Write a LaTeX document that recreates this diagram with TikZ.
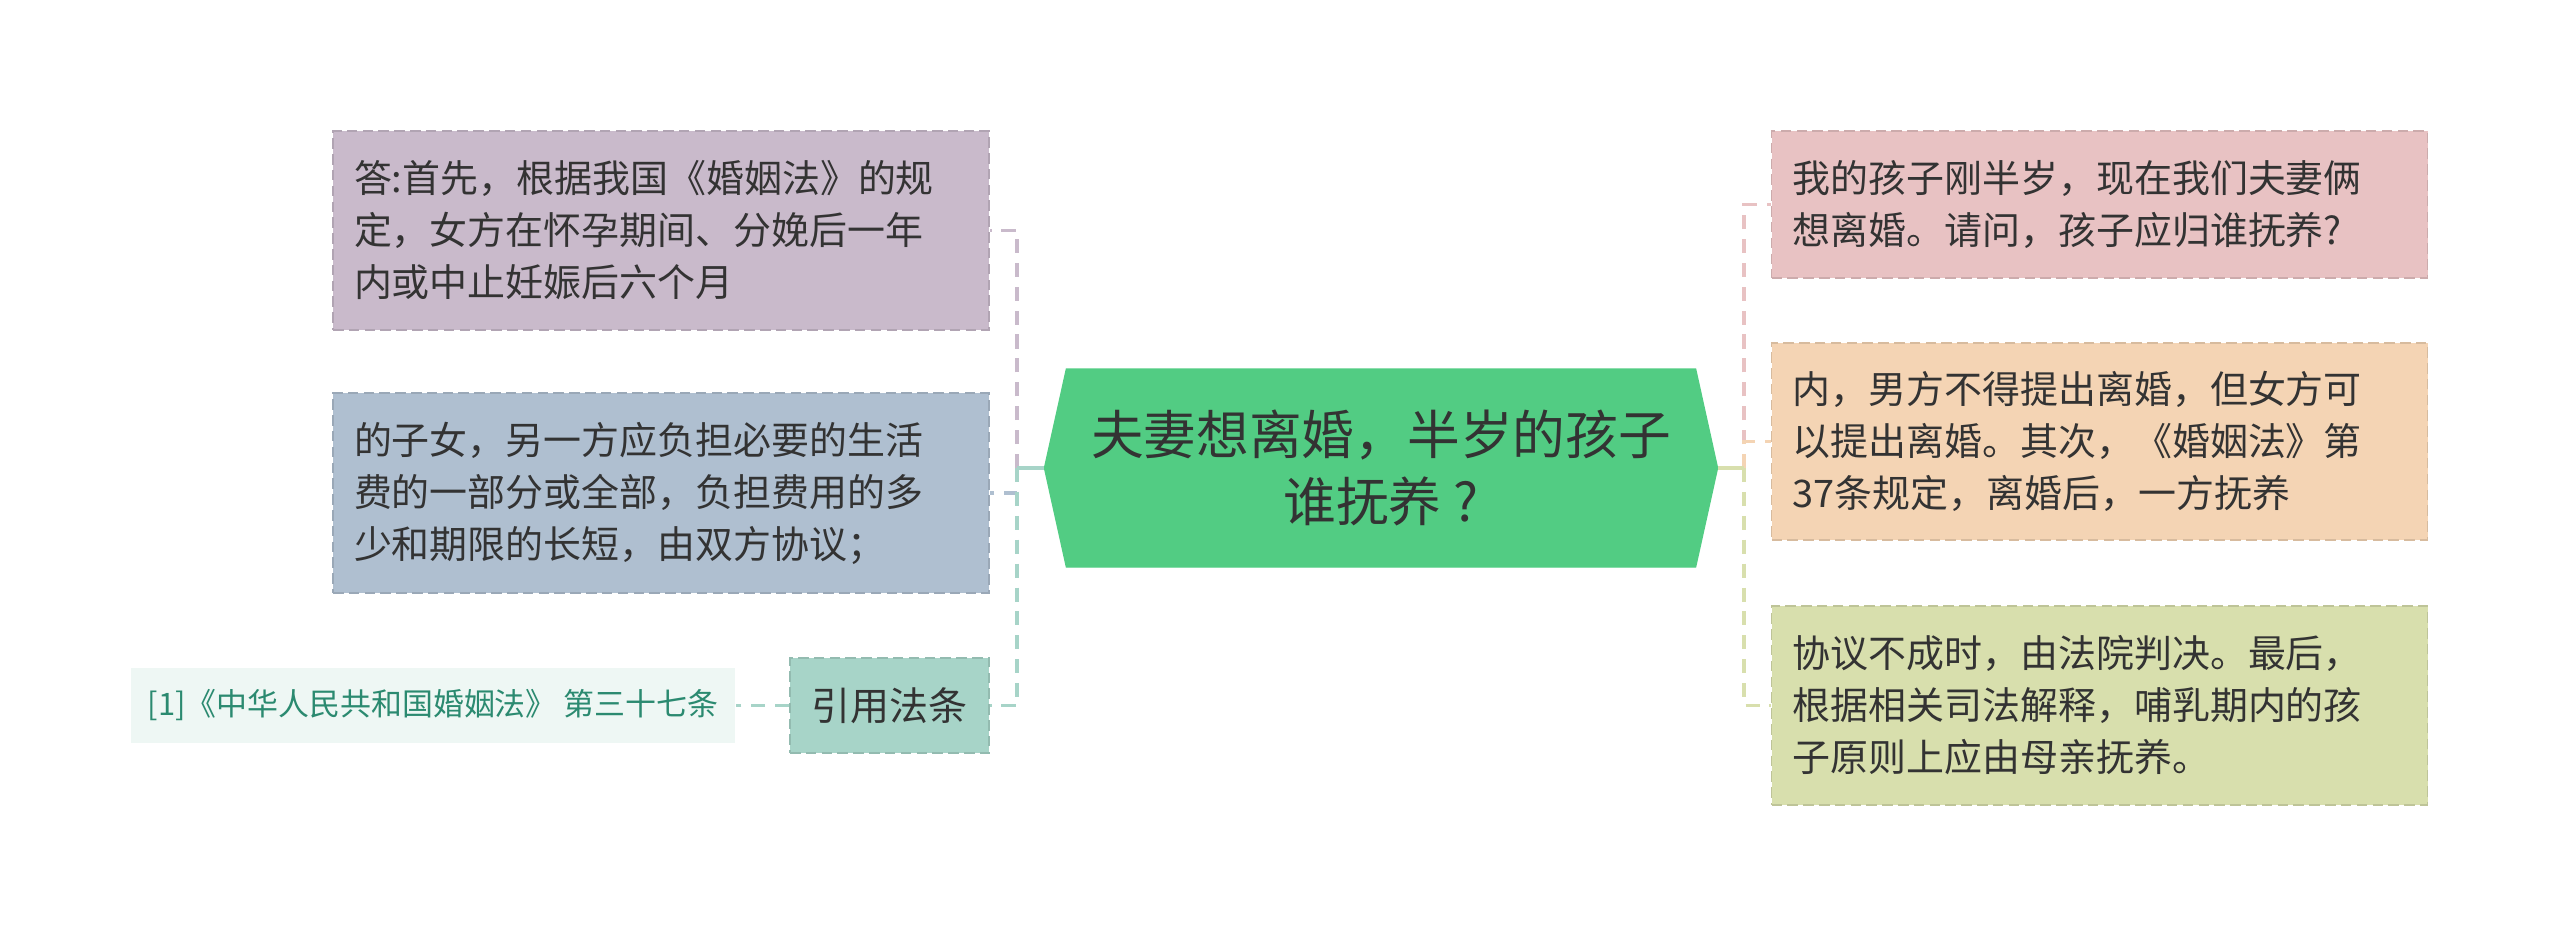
\documentclass[tikz,border=0pt]{standalone}
\usepackage{fontspec}
\setmainfont{Noto Sans CJK SC}
\usepackage{xcolor}
\usetikzlibrary{shapes.symbols}

\definecolor{rootc}{HTML}{52CC83}
\definecolor{txtc}{HTML}{333333}
\definecolor{purplec}{HTML}{C9BACB}
\definecolor{bluec}{HTML}{AFBFD0}
\definecolor{tealc}{HTML}{A7D4C8}
\definecolor{refbg}{HTML}{EEF7F4}
\definecolor{reftxt}{HTML}{2B8A70}
\definecolor{pinkc}{HTML}{E8C2C3}
\definecolor{orangec}{HTML}{F4D4B4}
\definecolor{greenc}{HTML}{D8DFAD}

\begin{document}
\begin{tikzpicture}[
    box/.style={draw=#1!88!black, fill=#1, line width=0.5pt, dash pattern=on 3pt off 1.5pt,
        text width=6.14cm, inner xsep=0.21cm, inner ysep=0pt, align=left, text=txtc,
        font=\fontsize{10.8pt}{14.8pt}\selectfont},
    rootbox/.style={shape=signal, signal to=east and west, signal pointer angle=155,
        fill=rootc, draw=rootc, minimum width=6.73cm, minimum height=1.98cm, inner sep=0pt,
        align=center, text=txtc, font=\fontsize{15pt}{19pt}\selectfont},
    link/.style={draw=#1, line width=1.1pt, dash pattern=on 4pt off 2.8pt},
    stem/.style={draw=#1, line width=1.1pt}
]
\useasboundingbox (0,0) rectangle (25.6,9.37);

% central topic
\node[rootbox] (root) at (13.81, 4.69) {夫妻想离婚，半岁的孩子\\谁抚养 ?};

% left branch
\node[box=purplec, minimum height=1.99cm] (ans1) at (6.61, 7.065)
    {答:首先，根据我国《婚姻法》的规\\定，女方在怀孕期间、分娩后一年\\内或中止妊娠后六个月};
\node[box=bluec, minimum height=2.0cm] (ans2) at (6.61, 4.44)
    {的子女，另一方应负担必要的生活\\费的一部分或全部，负担费用的多\\少和期限的长短，由双方协议；};
\node[box=tealc, text width=1.57cm, align=center, minimum height=0.95cm,
    font=\fontsize{11.1pt}{14pt}\selectfont] (cite) at (8.895, 2.315) {引用法条};
\node[fill=refbg, text=reftxt, minimum width=6.04cm, minimum height=0.75cm, inner sep=0pt,
    font=\fontsize{8.8pt}{11pt}\selectfont] (ref) at (4.33, 2.315) {[1]《中华人民共和国婚姻法》 第三十七条};

% right branch
\node[box=pinkc, minimum height=1.47cm] (quest) at (20.995, 7.325)
    {我的孩子刚半岁，现在我们夫妻俩\\想离婚。请问，孩子应归谁抚养?};
\node[box=orangec, minimum height=1.97cm] (ans3) at (20.995, 4.955)
    {内，男方不得提出离婚，但女方可\\以提出离婚。其次，《婚姻法》第\\37条规定，离婚后，一方抚养};
\node[box=greenc, minimum height=1.99cm] (ans4) at (20.995, 2.315)
    {协议不成时，由法院判决。最后，\\根据相关司法解释，哺乳期内的孩\\子原则上应由母亲抚养。};

% connectors
\coordinate (lspine) at (10.17, 4.69);
\coordinate (rspine) at (17.44, 4.69);

\draw[link=purplec] (lspine) |- (ans1.east);
\draw[link=bluec] (lspine) |- (ans2.east);
\draw[link=tealc] (lspine) |- (cite.east);
\draw[stem=tealc] (root.west) -- (lspine);
\draw[link=tealc] (cite.west) -- (ref.east);

\draw[link=pinkc] (rspine) |- (quest.west);
\draw[link=orangec] (rspine) |- (ans3.west);
\draw[link=greenc] (rspine) |- (ans4.west);
\draw[stem=greenc] (root.east) -- (rspine);
\end{tikzpicture}
\end{document}
